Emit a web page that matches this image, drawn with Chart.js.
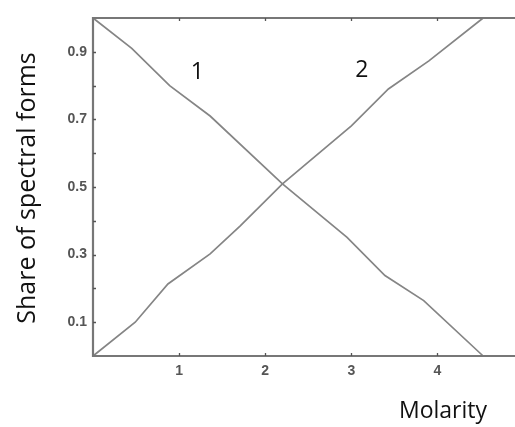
<!DOCTYPE html>
<html>
<head>
<meta charset="utf-8">
<title>Share of spectral forms vs molarity</title>
<script src="https://cdn.jsdelivr.net/npm/chart.js@4"></script>
<style>
  html, body { margin: 0; padding: 0; background: #fff; overflow: hidden; }
</style>
</head>
<body>
<canvas id="chart" width="515" height="427"></canvas>
<script>
'use strict'

//Data ---------------------------------------------------------
const molarity1 = [0, 0.45, 0.89, 1.36, 2.2, 2.95, 3.39, 3.84, 4.53];
const share1 = [1.0, 0.91, 0.80, 0.71, 0.509, 0.351, 0.238, 0.164, 0.0];
const molarity2 = [0, 0.49, 0.87, 1.36, 1.71, 2.2, 3.0, 3.43, 3.9, 4.53];
const share2 = [0, 0.1, 0.213, 0.302, 0.385, 0.509, 0.681, 0.79, 0.873, 1.0];

const xTicks = [1, 2, 3, 4];
const yTicks = [0.1, 0.2, 0.3, 0.4, 0.5, 0.6, 0.7, 0.8, 0.9];
const yLabels = ['0.1', '', '0.3', '', '0.5', '', '0.7', '', '0.9'];

const curveNames = ['1', '2'];
const curveNameX = [1.21, 3.12];
const curveNameY = [0.84, 0.846];

const xTitle = 'Molarity';
const yTitle = 'Share of spectral forms';

//Helpers ---------------------------------------------------------
function toPoints(xs, ys) {
  return xs.map((x, i) => ({ x: x, y: ys[i] }));
}

const lineColor = '#858585';
const frameColor = '#777777';

function lineDataset(xs, ys) {
  return {
    data: toPoints(xs, ys),
    showLine: true,
    pointRadius: 0,
    borderColor: lineColor,
    backgroundColor: lineColor,
    borderWidth: 1.7,
    tension: 0,
    clip: false
  };
}

//Frame, inward tick marks and text ---------------------------------
const framePlugin = {
  id: 'frame',
  afterDraw(chart) {
    const ctx = chart.ctx;
    const area = chart.chartArea;
    const xs = chart.scales.x;
    const ys = chart.scales.y;
    ctx.save();

    ctx.strokeStyle = frameColor;
    ctx.lineWidth = 2.2;
    ctx.beginPath();
    ctx.moveTo(chart.width + 5, area.top);
    ctx.lineTo(area.left, area.top);
    ctx.lineTo(area.left, area.bottom);
    ctx.lineTo(chart.width + 5, area.bottom);
    ctx.stroke();

    ctx.lineWidth = 1.3;
    ctx.strokeStyle = '#555';
    ctx.beginPath();
    xTicks.forEach(v => {
      const px = Math.round(xs.getPixelForValue(v)) + 0.5;
      ctx.moveTo(px, area.bottom);
      ctx.lineTo(px, area.bottom - 3);
      ctx.moveTo(px, area.top);
      ctx.lineTo(px, area.top + 3);
    });
    yTicks.forEach(v => {
      const py = Math.round(ys.getPixelForValue(v)) + 0.5;
      ctx.moveTo(area.left, py);
      ctx.lineTo(area.left + 3, py);
    });
    ctx.stroke();

    ctx.fillStyle = '#111';
    ctx.font = '23px "Open Sans", sans-serif';
    ctx.textAlign = 'center';
    ctx.textBaseline = 'middle';
    curveNames.forEach((name, i) => {
      ctx.fillText(name, xs.getPixelForValue(curveNameX[i]), ys.getPixelForValue(curveNameY[i]));
    });

    ctx.textAlign = 'left';
    ctx.textBaseline = 'alphabetic';
    ctx.font = '23px "Open Sans", sans-serif';
    ctx.fillText(xTitle, 399, 418);

    ctx.translate(35, 188);
    ctx.rotate(-Math.PI / 2);
    ctx.textAlign = 'center';
    ctx.font = '25px "Open Sans", sans-serif';
    ctx.fillText(yTitle, 0, 0);

    ctx.restore();
  }
};

//Chart ---------------------------------------------------------
const tickFont = { family: '"Liberation Sans", Arial, sans-serif', size: 14, weight: 'bold' };

new Chart(document.getElementById('chart'), {
  type: 'scatter',
  data: {
    datasets: [
      lineDataset(molarity1, share1),
      lineDataset(molarity2, share2)
    ]
  },
  options: {
    responsive: false,
    animation: false,
    layout: { padding: { top: 18, right: 0, left: 0, bottom: 0 } },
    plugins: {
      legend: { display: false },
      tooltip: { enabled: false },
      colors: { enabled: false }
    },
    scales: {
      x: {
        type: 'linear',
        min: 0,
        max: 4.9,
        grid: { display: false, drawTicks: false },
        border: { display: false },
        afterBuildTicks: s => { s.ticks = xTicks.map(v => ({ value: v })); },
        afterFit: s => { s.height = 71; },
        ticks: {
          padding: 7,
          font: tickFont,
          color: '#555555',
          maxRotation: 0,
          callback: v => String(v)
        }
      },
      y: {
        type: 'linear',
        min: 0,
        max: 1,
        grid: { display: false, drawTicks: false },
        border: { display: false },
        afterBuildTicks: s => { s.ticks = yTicks.map(v => ({ value: v })); },
        afterFit: s => { s.width = 93; },
        ticks: {
          padding: 6,
          font: tickFont,
          color: '#555555',
          callback: (v, i) => yLabels[i]
        }
      }
    }
  },
  plugins: [framePlugin]
});
</script>
</body>
</html>
